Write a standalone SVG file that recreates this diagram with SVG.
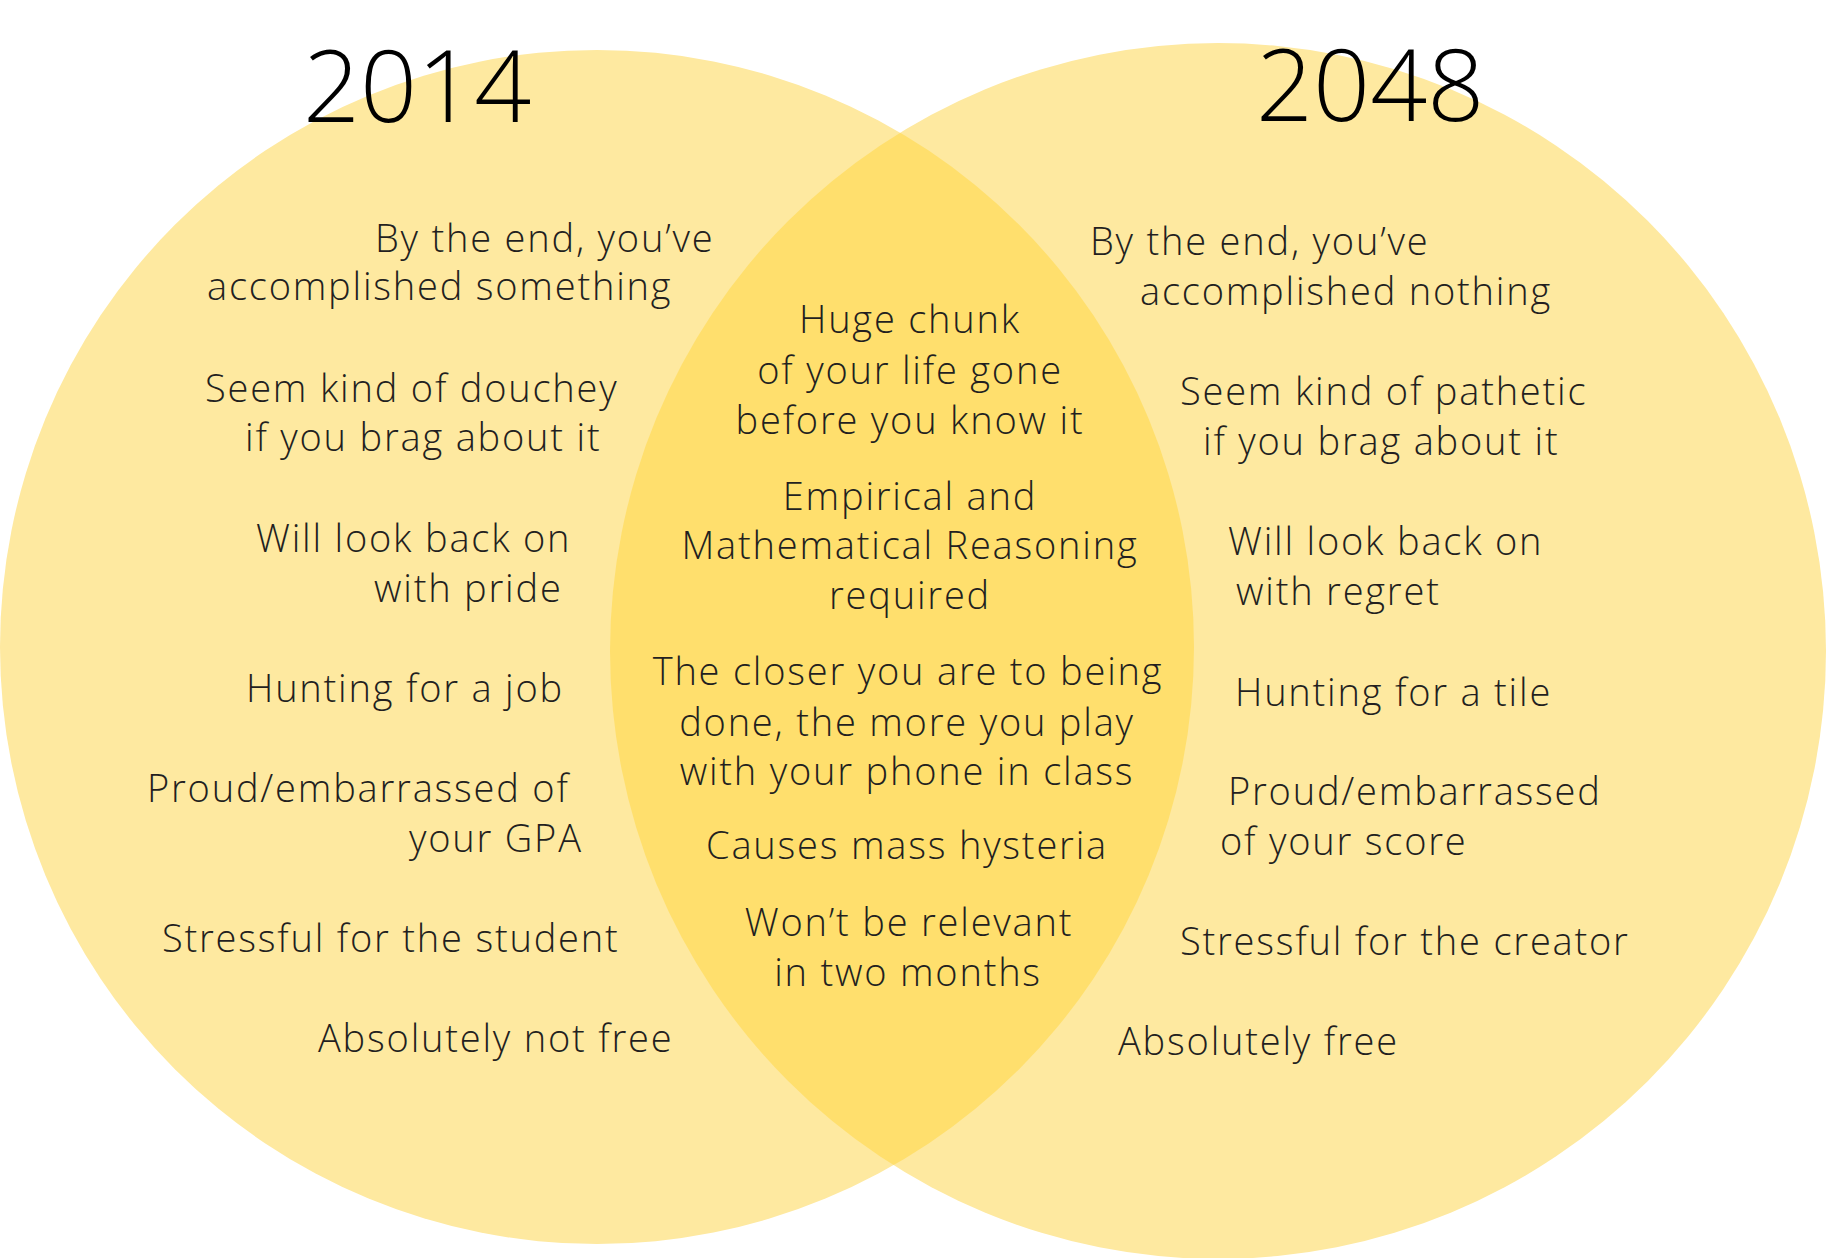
<svg xmlns="http://www.w3.org/2000/svg" width="1827" height="1258" viewBox="0 0 1827 1258">
<style>
.t{font-family:"Open Sans","Noto Sans","Liberation Sans",sans-serif;font-weight:300;font-size:38px;letter-spacing:1.8px;fill:#231f20}
.c{text-anchor:middle}
.y{font-family:"Open Sans","Noto Sans","Liberation Sans",sans-serif;font-weight:300;font-size:100px;fill:#000}
</style>
<defs>
<clipPath id="lc"><circle cx="597" cy="647" r="597"/></clipPath>
</defs>
<rect width="1827" height="1258" fill="#fff"/>
<g id="circle-2014"><circle cx="597" cy="647" r="597" fill="#FEE9A0"/></g>
<g id="circle-2048"><circle cx="1218" cy="651" r="608" fill="#FEE9A0"/></g>
<g id="overlap"><circle cx="1218" cy="651" r="608" fill="#FFDF6D" clip-path="url(#lc)"/></g>
<g id="connectors"></g>
<g id="title-2014"><text class="y" x="303" y="122">2014</text></g>
<g id="title-2048"><text class="y" x="1256" y="121">2048</text></g>
<g id="left">
<text class="t" x="375" y="252">By the end, you’ve</text>
<text class="t" x="207" y="300">accomplished something</text>
<text class="t" x="205" y="402">Seem kind of douchey</text>
<text class="t" x="245" y="451">if you brag about it</text>
<text class="t" x="256" y="552">Will look back on</text>
<text class="t" x="374" y="602">with pride</text>
<text class="t" x="246" y="702">Hunting for a job</text>
<text class="t" x="147" y="802">Proud/embarrassed of</text>
<text class="t" x="409" y="852">your GPA</text>
<text class="t" x="162" y="952">Stressful for the student</text>
<text class="t" x="318" y="1052">Absolutely not free</text>
</g>
<g id="center">
<text class="t c" x="910" y="333">Huge chunk</text>
<text class="t c" x="910" y="384">of your life gone</text>
<text class="t c" x="910" y="434">before you know it</text>
<text class="t c" x="910" y="510">Empirical and</text>
<text class="t c" x="910" y="559">Mathematical Reasoning</text>
<text class="t c" x="910" y="609">required</text>
<text class="t c" x="908" y="685">The closer you are to being</text>
<text class="t c" x="907" y="736">done, the more you play</text>
<text class="t c" x="907" y="785">with your phone in class</text>
<text class="t c" x="907" y="859">Causes mass hysteria</text>
<text class="t c" x="909" y="936">Won’t be relevant</text>
<text class="t c" x="908" y="986">in two months</text>
</g>
<g id="right">
<text class="t" x="1090" y="255">By the end, you’ve</text>
<text class="t" x="1140" y="305">accomplished nothing</text>
<text class="t" x="1180" y="405">Seem kind of pathetic</text>
<text class="t" x="1203" y="455">if you brag about it</text>
<text class="t" x="1228" y="555">Will look back on</text>
<text class="t" x="1236" y="605">with regret</text>
<text class="t" x="1235" y="706">Hunting for a tile</text>
<text class="t" x="1228" y="805">Proud/embarrassed</text>
<text class="t" x="1220" y="855">of your score</text>
<text class="t" x="1180" y="955">Stressful for the creator</text>
<text class="t" x="1118" y="1055">Absolutely free</text>
</g>
</svg>
